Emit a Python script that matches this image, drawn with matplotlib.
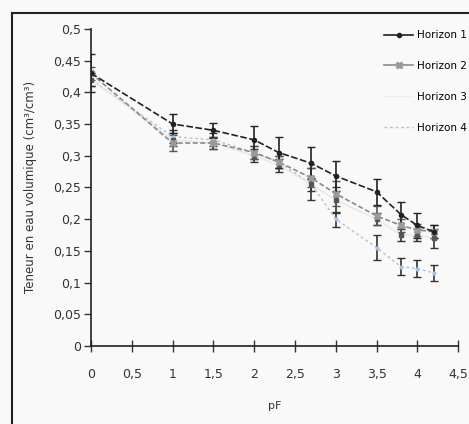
import matplotlib
matplotlib.use("Agg")
import matplotlib.pyplot as plt
from matplotlib.lines import Line2D
from matplotlib.ticker import FuncFormatter

# pF values and water content per horizon
pf = [0, 1, 1.5, 2, 2.3, 2.7, 3, 3.5, 3.8, 4, 4.2]

h1 = [0.430, 0.350, 0.340, 0.325, 0.305, 0.288, 0.268, 0.243, 0.207, 0.190, 0.180]
h1_err = [0.030, 0.015, 0.012, 0.022, 0.025, 0.025, 0.024, 0.020, 0.020, 0.020, 0.010]

h2 = [0.430, 0.320, 0.320, 0.305, 0.290, 0.265, 0.240, 0.205, 0.190, 0.183, 0.180]
h2_err = [0.010, 0.012, 0.010, 0.010, 0.010, 0.015, 0.020, 0.015, 0.010, 0.010, 0.010]

h3 = [0.420, 0.325, 0.320, 0.300, 0.285, 0.255, 0.230, 0.200, 0.175, 0.175, 0.170]
h3_err = [0.010, 0.010, 0.010, 0.010, 0.010, 0.025, 0.020, 0.010, 0.010, 0.010, 0.015]

h4 = [0.420, 0.330, 0.325, 0.305, 0.290, 0.255, 0.200, 0.155, 0.125, 0.122, 0.115]
h4_err = [0.010, 0.010, 0.010, 0.010, 0.010, 0.010, 0.012, 0.020, 0.013, 0.013, 0.013]

labels = ["Horizon 1", "Horizon 2", "Horizon 3", "Horizon 4"]

fig = plt.figure(figsize=(4.69, 4.24), dpi=100, facecolor="#f9f9f9")
ax = fig.add_axes([0.194, 0.184, 0.783, 0.748])
ax.set_facecolor("#f9f9f9")

# draw lightest first so the black series sits on top
ax.errorbar(pf, h4, yerr=h4_err, color="#a9c3dd", ls=(0, (2, 2)), lw=1,
            marker="o", ms=2, ecolor="#333333", elinewidth=1.2, capsize=3)
ax.errorbar(pf, h3, yerr=h3_err, color="#e6e6e6", lw=1,
            marker="s", ms=3, mfc="#555555", mec="#555555",
            ecolor="#333333", elinewidth=1.2, capsize=3)
ax.errorbar(pf, h2, yerr=h2_err, color="#8a8a8a", ls=(0, (3, 1.5)), lw=1.2,
            marker="X", ms=5, mfc="#9a9a9a", mec="#9a9a9a",
            ecolor="#555555", elinewidth=1.2, capsize=3)
ax.errorbar(pf, h1, yerr=h1_err, color="#222222", ls=(0, (4, 1.5)), lw=1.2,
            marker="o", ms=3, ecolor="#222222", elinewidth=1.2, capsize=3)

ax.set_xlim(0, 4.5)
ax.set_ylim(0, 0.5)
ax.set_xticks([0, 0.5, 1, 1.5, 2, 2.5, 3, 3.5, 4, 4.5])
ax.set_yticks([0, 0.05, 0.1, 0.15, 0.2, 0.25, 0.3, 0.35, 0.4, 0.45, 0.5])
comma = FuncFormatter(lambda v, p: ("%g" % round(v, 2)).replace(".", ","))
ax.xaxis.set_major_formatter(comma)
ax.yaxis.set_major_formatter(comma)

for s in ["top", "right"]:
    ax.spines[s].set_visible(False)
for s in ["left", "bottom"]:
    ax.spines[s].set_color("#222222")
    ax.spines[s].set_linewidth(1.2)
ax.tick_params(axis="y", direction="out", length=5, width=1, pad=2,
               labelsize=9, colors="#333333")
ax.tick_params(axis="x", direction="inout", length=8, width=1, pad=12,
               labelsize=9, colors="#333333")

ax.set_xlabel("pF", fontsize=8, color="#333333", labelpad=14)
ax.set_ylabel("Teneur en eau volumique (cm³/cm³)", fontsize=8.5,
              color="#333333", labelpad=12)

# legend: plain line handles, no error bars
handles = [
    Line2D([], [], color="#222222", lw=1.2, marker="o", ms=3),
    Line2D([], [], color="#8a8a8a", lw=1.2, marker="X", ms=5,
           mfc="#9a9a9a", mec="#9a9a9a"),
    Line2D([], [], color="#eeeeee", lw=1),
    Line2D([], [], color="#a9c3dd", lw=1, ls=(0, (2, 2))),
]
ax.legend(handles, labels, loc="upper right", bbox_to_anchor=(1.05, 1.025),
          frameon=False, fontsize=7.5, handlelength=2.8, labelspacing=2.0,
          handletextpad=0.4)

# scanned page frame
fig.add_artist(Line2D([12 / 469, 12 / 469], [0, 1 - 13 / 424], color="#222222", lw=1.5))
fig.add_artist(Line2D([12 / 469, 1], [1 - 13 / 424, 1 - 13 / 424], color="#222222", lw=1.5))

fig.savefig("out.png", dpi=100, facecolor=fig.get_facecolor())
